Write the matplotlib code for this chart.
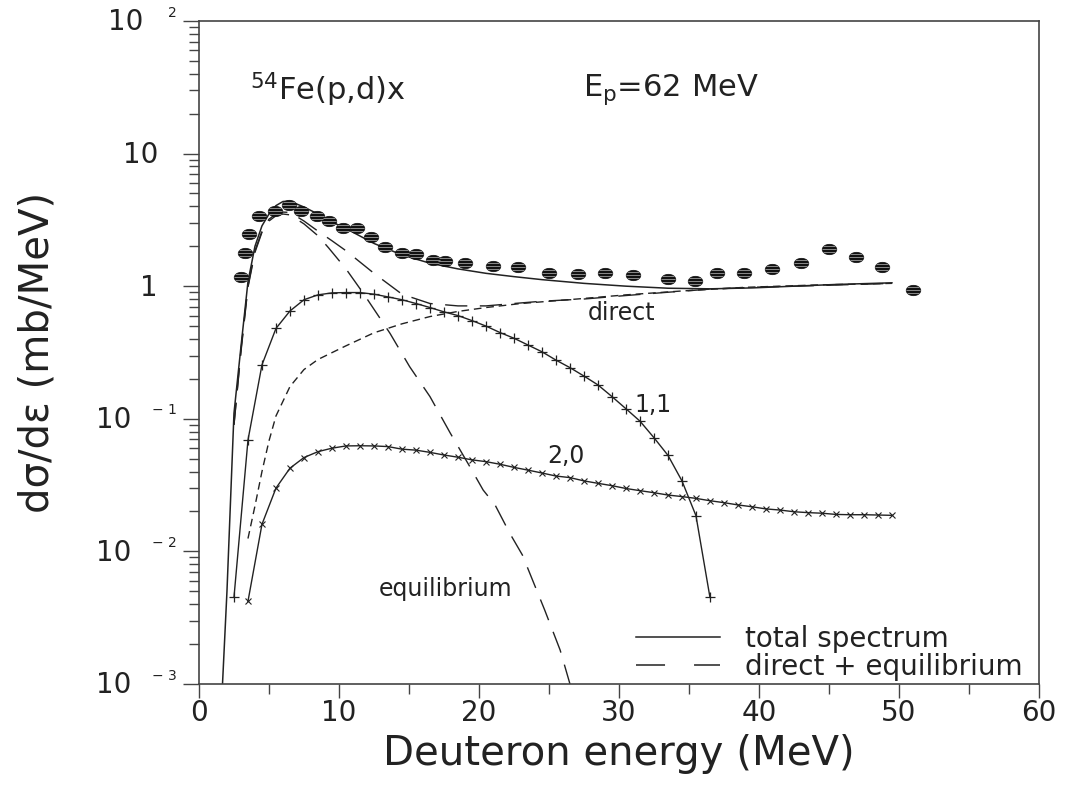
import matplotlib
matplotlib.use('Agg')
import matplotlib.pyplot as plt
from matplotlib.path import Path
from matplotlib.lines import Line2D
from matplotlib.ticker import MultipleLocator, LogLocator, NullFormatter
import numpy as np

# measured points (hatched ellipses)
exp_E = [3.0, 3.3, 3.6, 4.3, 5.4, 6.4, 7.3, 8.4, 9.3, 10.3, 11.3, 12.3, 13.3, 14.5, 15.5, 16.7, 17.6,
         19.0, 21.0, 22.8, 25.0, 27.1, 29.0, 31.0, 33.5, 35.4, 37.0, 38.9, 40.9, 43.0, 45.0, 46.9, 48.8, 51.0]
exp_v = [1.17, 1.77, 2.46, 3.40, 3.67, 4.10, 3.67, 3.40, 3.10, 2.76, 2.74, 2.34, 1.96, 1.77, 1.74, 1.58, 1.55,
         1.49, 1.43, 1.39, 1.25, 1.24, 1.25, 1.21, 1.13, 1.09, 1.25, 1.25, 1.34, 1.49, 1.91, 1.65, 1.40, 0.935]

# total spectrum
total_E = [1.5, 2.0, 2.5, 3.0, 3.5, 4.0, 4.5, 5.0, 5.5, 6.0, 6.5, 7.5, 8.5, 9.5, 10.5, 12.5, 14.5, 16.5,
           18.5, 20.5, 22.5, 24.5, 27.5, 30.5, 33.5, 36.5, 39.5, 42.5, 45.5, 49.5]
total_v = [0.0004, 0.005, 0.11, 0.35, 1.08, 2.0, 2.85, 3.5, 4.05, 4.35, 4.38, 3.95, 3.5, 3.05, 2.72, 2.1, 1.72, 1.49,
           1.35, 1.25, 1.18, 1.12, 1.05, 1.0, 0.965, 0.955, 0.97, 1.0, 1.03, 1.06]

# direct + equilibrium
direq_E = [2.5, 3.0, 3.5, 4.0, 4.5, 5.0, 5.5, 6.0, 6.5, 7.5, 8.5, 9.5, 10.5, 12.5, 14.5, 16.5, 18.5, 20.5,
           22.5, 24.5, 27.5, 30.5, 33.5, 36.5, 39.5, 42.5, 45.5, 49.5]
direq_v = [0.09, 0.33, 1.0, 1.85, 2.6, 3.2, 3.5, 3.62, 3.6, 3.1, 2.6, 2.2, 1.85, 1.25, 0.87, 0.74, 0.71, 0.71,
           0.74, 0.77, 0.80, 0.85, 0.9, 0.95, 0.98, 1.0, 1.02, 1.05]

# direct
direct_E = [3.5, 4.0, 4.5, 5.0, 5.5, 6.5, 7.5, 8.5, 10.5, 12.5, 14.5, 16.5, 18.5, 20.5, 23.0, 27.0, 30.5,
            34.5, 39.0, 44.0, 49.5]
direct_v = [0.0125, 0.022, 0.04, 0.068, 0.105, 0.175, 0.235, 0.28, 0.355, 0.445, 0.52, 0.59, 0.645, 0.69, 0.74,
            0.80, 0.86, 0.92, 0.98, 1.02, 1.05]

# equilibrium
eq_E = [2.5, 3.0, 3.5, 4.0, 4.5, 5.0, 5.5, 6.0, 6.5, 7.5, 8.5, 9.25, 10.5, 11.75, 12.85, 13.65, 15.05, 16.5,
        17.95, 19.35, 20.3, 21.15, 22.2, 23.1, 24.7, 25.8, 26.5, 27.5]
eq_v = [0.09, 0.32, 0.98, 1.8, 2.55, 3.1, 3.4, 3.5, 3.45, 2.95, 2.4, 1.95, 1.35, 0.88, 0.59, 0.44, 0.247, 0.147,
        0.078, 0.0435, 0.029, 0.0224, 0.0137, 0.0094, 0.0036, 0.0018, 0.001, 0.0004]

# multistep 1,1 (+ markers)
ms11_E = [2.5, 3.5, 4.5, 5.5, 6.5, 7.5, 8.5, 9.5, 10.5, 11.5, 12.5, 13.5, 14.5, 15.5, 16.5, 17.5, 18.5, 19.5,
          20.5, 21.5, 22.5, 23.5, 24.5, 25.5, 26.5, 27.5, 28.5, 29.5, 30.5, 31.5, 32.5, 33.5, 34.5, 35.5, 36.5]
ms11_v = [0.0045, 0.069, 0.255, 0.48, 0.65, 0.79, 0.86, 0.89, 0.895, 0.895, 0.87, 0.83, 0.79, 0.74, 0.69, 0.64,
          0.60, 0.55, 0.50, 0.447, 0.405, 0.36, 0.32, 0.277, 0.243, 0.21, 0.18, 0.147, 0.119, 0.096, 0.072,
          0.053, 0.034, 0.0186, 0.0045]

# multistep 2,0 (x markers)
ms20_E = [3.5, 4.5, 5.5, 6.5, 7.5, 8.5, 9.5, 10.5, 11.5, 12.5, 13.5, 14.5, 15.5, 16.5, 17.5, 18.5, 19.5, 20.5,
          21.5, 22.5, 23.5, 24.5, 25.5, 26.5, 27.5, 28.5, 29.5, 30.5, 31.5, 32.5, 33.5, 34.5, 35.5, 36.5,
          37.5, 38.5, 39.5, 40.5, 41.5, 42.5, 43.5, 44.5, 45.5, 46.5, 47.5, 48.5, 49.5]
ms20_v = [0.0042, 0.016, 0.030, 0.0424, 0.051, 0.0565, 0.060, 0.0624, 0.0626, 0.0624, 0.0617, 0.059, 0.058,
          0.0558, 0.0533, 0.0513, 0.049, 0.0475, 0.0454, 0.043, 0.041, 0.039, 0.037, 0.036, 0.034, 0.0326,
          0.0313, 0.0298, 0.0287, 0.0277, 0.0266, 0.0259, 0.0251, 0.0241, 0.0233, 0.0224, 0.0217, 0.0209,
          0.0205, 0.0199, 0.0196, 0.0194, 0.019, 0.0189, 0.0189, 0.0188, 0.0187]

decades = [-3, -2, -1, 0, 1, 2]

ink = '#222222'
plt.rcParams['font.family'] = ['DejaVu Sans']

fig = plt.figure(figsize=(10.68, 7.88), dpi=100)
ax = fig.add_axes([0.1863, 0.132, 0.7865, 0.8414])

# ellipse marker with horizontal stripes
a, b = 1.4, 1.0
circ = Path.unit_circle()
ell = Path(circ.vertices * [a, b], circ.codes)
verts, codes = [], []
for yy in [-0.5, 0.0, 0.5]:
    xx = a * np.sqrt(1 - yy ** 2)
    verts += [(-xx, yy), (xx, yy)]
    codes += [Path.MOVETO, Path.LINETO]
stripes = Path(verts, codes)

ax.plot(exp_E, exp_v, ls='none', marker=ell, ms=10.5, mfc='#111111', mec='#111111', mew=0.5, zorder=5)
ax.plot(exp_E, exp_v, ls='none', marker=stripes, ms=10.5, mec='#8a8a8a', mew=0.7, zorder=6)

ax.plot(total_E, total_v, color=ink, lw=1.1)
ax.plot(direq_E, direq_v, color=ink, lw=1.0, dashes=(16, 9))
ax.plot(eq_E, eq_v, color=ink, lw=1.0, dashes=(16, 9))
ax.plot(direct_E, direct_v, color=ink, lw=1.0, dashes=(5.5, 3.5))
ax.plot(ms11_E, ms11_v, color=ink, lw=1.0, marker='+', ms=7.5, mew=0.9)
ax.plot(ms20_E, ms20_v, color=ink, lw=1.0, marker='x', ms=5, mew=0.8)

ax.set_yscale('log')
ax.set_xlim(0, 60)
ax.set_ylim(1e-3, 1e2)

for sp in ax.spines.values():
    sp.set_color('#444444')
    sp.set_linewidth(1.2)

ax.xaxis.set_major_locator(MultipleLocator(10))
ax.xaxis.set_minor_locator(MultipleLocator(5))
ax.yaxis.set_major_locator(LogLocator(base=10, numticks=10))
ax.yaxis.set_minor_locator(LogLocator(base=10, subs=np.arange(2, 10), numticks=20))
ax.yaxis.set_minor_formatter(NullFormatter())
ax.tick_params(axis='x', which='major', direction='out', length=10, width=1.0, color='#444444',
               labelsize=20, labelcolor=ink, pad=1)
ax.tick_params(axis='x', which='minor', direction='out', length=7, width=1.0, color='#444444')
ax.tick_params(axis='y', which='major', direction='out', length=11.5, width=1.0, color='#444444',
               labelleft=False)
ax.tick_params(axis='y', which='minor', direction='out', length=7, width=1.0, color='#444444')

# y tick labels: "10" with a small raised exponent
for d in decades:
    y = 10.0 ** d
    if d == 0:
        ax.annotate('1', xy=(0, y), xycoords=('axes fraction', 'data'), xytext=(-30, -1),
                    textcoords='offset points', ha='right', va='center', fontsize=20, color=ink)
    elif d == 1:
        ax.annotate('10', xy=(0, y), xycoords=('axes fraction', 'data'), xytext=(-29, -1),
                    textcoords='offset points', ha='right', va='center', fontsize=20, color=ink)
    else:
        exp = str(d).replace('-', '\u2212 ')
        base_off = -40 if d > 0 else -49
        ax.annotate('10', xy=(0, y), xycoords=('axes fraction', 'data'), xytext=(base_off, -1),
                    textcoords='offset points', ha='right', va='center', fontsize=20, color=ink)
        ax.annotate(exp, xy=(0, y), xycoords=('axes fraction', 'data'), xytext=(-16, 6),
                    textcoords='offset points', ha='right', va='center', fontsize=10, color=ink)

ax.set_xlabel('Deuteron energy (MeV)', fontsize=29, color=ink)
ax.xaxis.set_label_coords(0.5, -0.075)
ax.set_ylabel('d\u03c3/d\u03b5 (mb/MeV)', fontsize=29, color=ink)
ax.yaxis.set_label_coords(-0.168, 0.5)

ax.text(0.061, 0.897, '$^{54}$Fe(p,d)x', transform=ax.transAxes, fontsize=22, color=ink,
        ha='left', va='center')
ax.text(0.457, 0.897, 'E$_\\mathrm{p}$=62 MeV', transform=ax.transAxes, fontsize=22, color=ink,
        ha='left', va='center')

ax.text(30.2, 0.63, 'direct', fontsize=17, color=ink, ha='center', va='center')
ax.text(32.4, 0.127, '1,1', fontsize=17, color=ink, ha='center', va='center')
ax.text(26.2, 0.052, '2,0', fontsize=17, color=ink, ha='center', va='center')
ax.text(17.6, 0.0052, 'equilibrium', fontsize=17, color=ink, ha='center', va='center')

handles = [Line2D([], [], color=ink, lw=1.1),
           Line2D([], [], color=ink, lw=1.1, dashes=(19, 19))]
ax.legend(handles, ['total spectrum', 'direct + equilibrium'], loc='lower right',
          bbox_to_anchor=(1.0, -0.02), frameon=False, fontsize=20, handlelength=3.0,
          handletextpad=0.9, labelspacing=0.0, labelcolor=ink, borderaxespad=0.2)

fig.savefig('out.png', dpi=100)
